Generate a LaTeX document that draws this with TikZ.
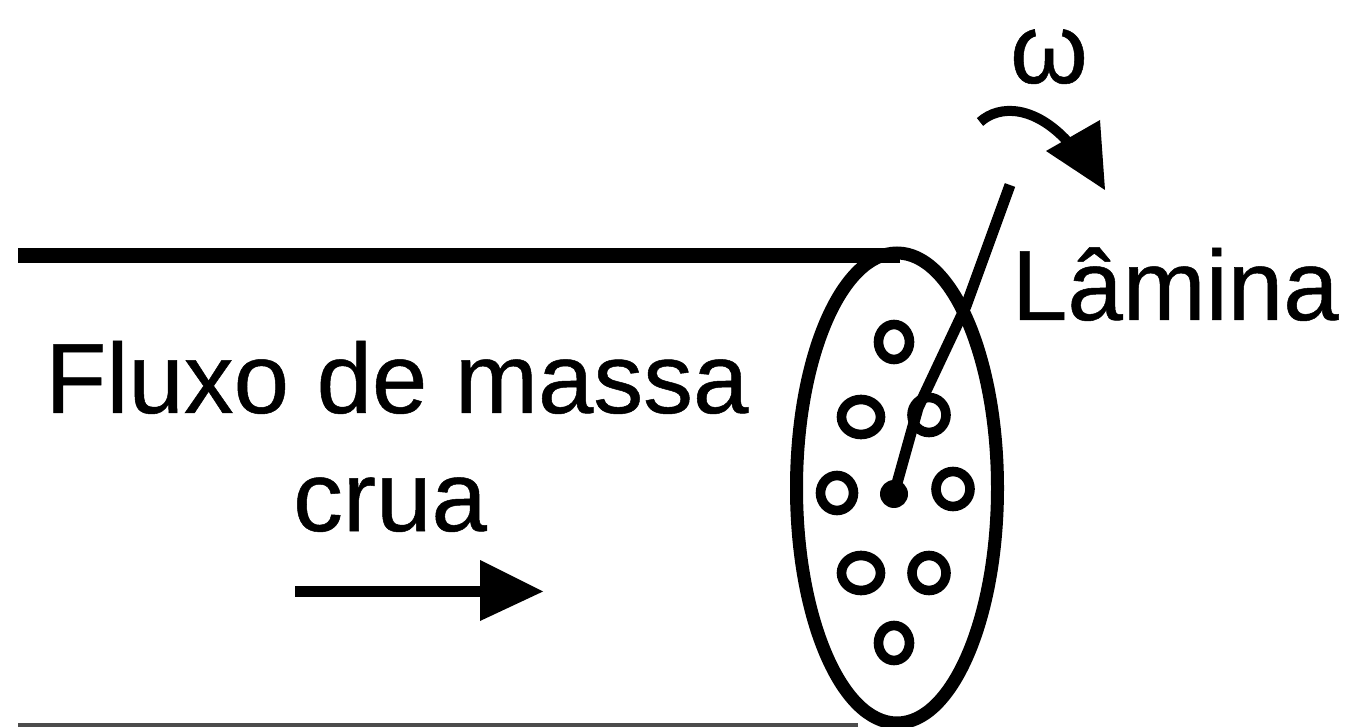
\documentclass[tikz,border=0pt]{standalone}
\usepackage{fontspec}
\setmainfont[FakeBold=0.5]{Liberation Sans}
\usetikzlibrary{shapes.geometric}
\tikzset{
  px/.style={x=0.5pt,y=-0.5pt},
  label/.style={anchor=base,inner sep=0pt,outer sep=0pt,font=\fontsize{49.8pt}{55pt}\selectfont,text=black},
  bubble/.style={draw=black,line width=4.8pt,fill=white,ellipse,minimum height=17.5pt,inner sep=0pt},
  wall/.style={draw=black,line width=7.5pt},
  ring/.style={draw=black,line width=6.5pt},
  shaft/.style={draw=black,line width=5.5pt,line join=round},
}
\begin{document}
\begin{tikzpicture}[px]
\useasboundingbox (0,0) rectangle (1351,727);
\clip (0,0) rectangle (1351,727);
% walls
\coordinate (ta) at (18,255.5);
\coordinate (tb) at (900,255.5);
\draw[wall] (ta) -- (tb);
\coordinate (ba) at (18,725);
\coordinate (bb) at (858,725);
\draw[draw=black!70,line width=2.3pt] (ba) -- (bb);
% ellipse
\node[ring,ellipse,minimum width=100.5pt,minimum height=235pt,inner sep=0pt] (ell) at (897,488) {};
% bubbles
\node[bubble,minimum width=15.5pt] (b1) at (894,342) {};
\node[bubble,minimum width=19.5pt] (b2) at (861,417) {};
\node[bubble,minimum width=17pt] (b3) at (929,415) {};
\node[bubble,minimum width=16.5pt] (b4) at (837,493) {};
\node[bubble,minimum width=17pt] (b5) at (953,489) {};
\node[bubble,minimum width=19.5pt] (b6) at (861,573) {};
\node[bubble,minimum width=17pt] (b7) at (929,573) {};
\node[bubble,minimum width=15.5pt] (b8) at (894,643) {};
% blade
\node[circle,fill=black,minimum size=14pt,inner sep=0pt] (hub) at (894,494) {};
\coordinate (k1) at (918,408);
\coordinate (k2) at (966,306);
\coordinate (tip) at (1010,185);
\draw[shaft] (hub.center) -- (k1) -- (k2) -- (tip);
% flow arrow
\coordinate (fa) at (295,591);
\coordinate (fb) at (485,591);
\draw[draw=black,line width=5.5pt] (fa) -- (fb);
\fill[black] (480,560) -- (543,591.5) -- (480,621) -- cycle;
% omega arrow
\coordinate (oa) at (980,122);
\coordinate (ob) at (1068,142);
\draw[draw=black,line width=5pt] (oa) .. controls (1000,104) and (1035,106) .. (ob);
\fill[black] (1046,151) -- (1100,120) -- (1105,190) -- cycle;
% labels
\node[label] (t1) at (397,413) {Fluxo de massa};
\node[label] (t2) at (390,531) {crua};
\node[label,anchor=base west] (t3) at (1012,320) {Lâmina};
\node[label] (t4) at (1049,83) {ω};
\end{tikzpicture}
\end{document}
